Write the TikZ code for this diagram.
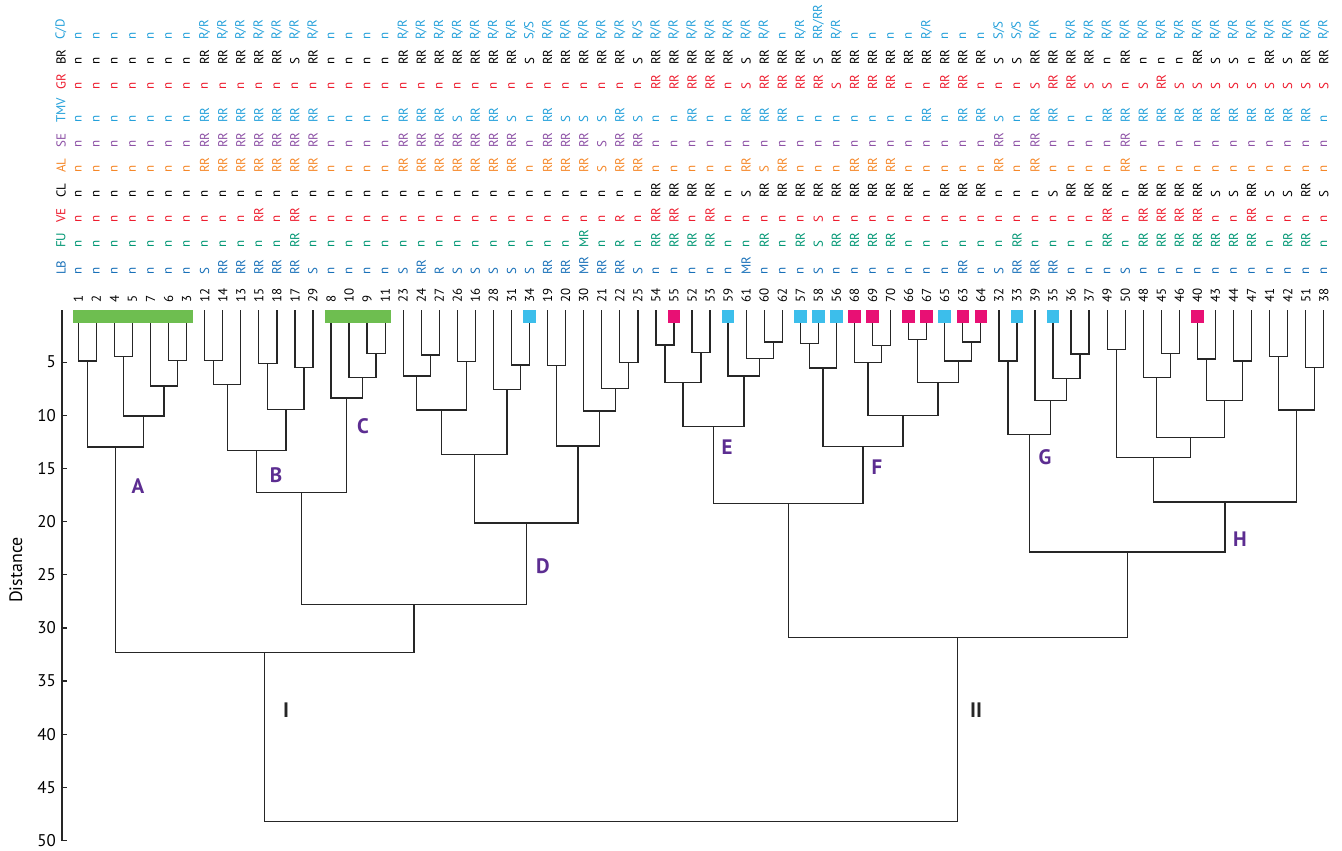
\documentclass[tikz,border=0pt]{standalone}
\usepackage{fontspec}
\setmainfont{PT Sans}
\usetikzlibrary{calc}

\definecolor{cdblue}{RGB}{36,160,218}
\definecolor{lbblue}{RGB}{24,112,184}
\definecolor{gred}{RGB}{237,28,46}
\definecolor{sepurp}{RGB}{140,80,165}
\definecolor{alorange}{RGB}{245,135,40}
\definecolor{fugreen}{RGB}{0,150,115}
\definecolor{labpurp}{RGB}{92,45,145}
\definecolor{barg}{RGB}{110,190,80}
\definecolor{sqblue}{RGB}{60,190,235}
\definecolor{sqpink}{RGB}{232,16,116}

\tikzset{
  dline/.style={line width=1.3bp,draw=black!85},
  entry/.style={rotate=90,anchor=west,inner sep=0pt,font=\fontsize{13}{15}\selectfont},
  leafnum/.style={entry,text=black},
  sqbox/.style={anchor=north,minimum size=12.5bp,inner sep=0pt},
  clab/.style={font=\fontsize{21}{24}\selectfont\bfseries,text=labpurp},
  rlab/.style={font=\fontsize{21}{24}\selectfont\bfseries,text=black!85},
  axnum/.style={anchor=east,inner sep=0pt,font=\fontsize{17}{20}\selectfont},
}

\newcommand{\dmerge}[4]{%
  \pgfmathsetmacro{\dy}{309+10.63*#4}%
  \path ($(#2)!0.5!(#3)$) coordinate (#1x);
  \coordinate (#1) at (#1x |- 0,\dy);
  \draw[dline] (#2) |- (#1) -| (#3);
}

\begin{document}
\begin{tikzpicture}[x=1bp,y=-1bp]
\useasboundingbox (0,0) rectangle (1342,850);

\foreach \lab [count=\i, evaluate=\i as \x using 78.3+18.05*(\i-1)] in
  {1,2,4,5,7,6,3,12,14,13,15,18,17,29,8,10,9,11,23,24,27,26,16,28,31,34,19,20,30,21,22,25,
   54,55,52,53,59,61,60,62,57,58,56,68,69,70,66,67,65,63,64,32,33,39,35,36,37,49,50,48,45,46,40,43,44,47,41,42,51,38}
{
  \coordinate (l\lab) at (\x,310);
  \node[leafnum] (n\lab) at (\x,303) {\lab};
}

\node[entry,text=cdblue] (hCD) at (61,40) {C/D};
\node[entry,text=black] (hBR) at (61,65) {BR};
\node[entry,text=gred] (hGR) at (61,90) {GR};
\node[entry,text=cdblue] (hTMV) at (61,123) {TMV};
\node[entry,text=sepurp] (hSE) at (61,148) {SE};
\node[entry,text=alorange] (hAL) at (61,173) {AL};
\node[entry,text=black] (hCL) at (61,198) {CL};
\node[entry,text=gred] (hVE) at (61,223) {VE};
\node[entry,text=fugreen] (hFU) at (61,248) {FU};
\node[entry,text=lbblue] (hLB) at (61,275) {LB};

\foreach \v [count=\i, evaluate=\i as \x using 78.3+18.05*(\i-1)] in
  {n,n,n,n,n,n,n,R/R,R/R,R/R, R/R,R/R,R/R,R/R,n,n,n,n,R/R,R/R,
   R/R,R/R,R/R,R/R,R/R,S/S,R/R,R/R,R/R,R/R, R/R,R/S,R/R,R/R,R/R,R/R,R/R,R/R,R/R,n,
   R/R,RR/RR,R/R,n,n,n,n,R/R,n,n, n,S/S,S/S,R/R,n,R/R,R/R,R/R,R/R,R/R,
   R/R,R/R,R/R,R/R,R/R,R/R,R/R,R/R,R/R,R/R}
  \node[entry,text=cdblue] (cd\i) at (\x,40) {\v};

\foreach \v [count=\i, evaluate=\i as \x using 78.3+18.05*(\i-1)] in
  {n,n,n,n,n,n,n,RR,RR,RR, RR,RR,S,RR,n,n,n,n,RR,RR,
   RR,RR,RR,RR,RR,S,RR,RR,RR,RR, RR,S,RR,RR,RR,RR,RR,S,RR,RR,
   RR,S,RR,RR,RR,RR,RR,RR,RR,RR, RR,S,S,RR,RR,RR,RR,n,RR,n,
   n,n,RR,S,S,n,RR,S,RR,RR}
  \node[entry,text=black] (br\i) at (\x,65) {\v};

\foreach \v [count=\i, evaluate=\i as \x using 78.3+18.05*(\i-1)] in
  {n,n,n,n,n,n,n,n,n,n, n,n,n,n,n,n,n,n,n,n,
   n,n,n,n,n,n,n,n,n,n, n,n,RR,RR,RR,RR,n,S,RR,RR,
   RR,RR,S,RR,RR,RR,n,n,RR,RR, n,n,n,S,RR,RR,S,S,n,S,
   RR,S,S,S,S,S,S,S,S,S}
  \node[entry,text=gred] (gr\i) at (\x,90) {\v};

\foreach \v [count=\i, evaluate=\i as \x using 78.3+18.05*(\i-1)] in
  {n,n,n,n,n,n,n,RR,RR,RR, RR,RR,RR,RR,n,n,n,n,RR,RR,
   RR,S,RR,RR,S,n,RR,S,S,S, RR,S,n,n,RR,n,n,RR,RR,RR,
   n,n,n,n,n,n,n,RR,n,RR, RR,S,n,RR,RR,n,n,RR,RR,RR,
   RR,RR,RR,RR,RR,RR,RR,RR,RR,n}
  \node[entry,text=cdblue] (tmv\i) at (\x,123) {\v};

\foreach \v [count=\i, evaluate=\i as \x using 78.3+18.05*(\i-1)] in
  {n,n,n,n,n,n,n,RR,RR,RR, RR,RR,RR,RR,n,n,n,n,RR,RR,
   RR,RR,RR,RR,RR,n,RR,RR,RR,S, RR,RR,n,n,n,n,n,n,n,n,
   n,n,n,n,n,n,n,n,n,n, n,RR,n,RR,n,n,n,n,RR,n,
   n,n,n,n,n,n,n,n,n,n}
  \node[entry,text=sepurp] (se\i) at (\x,148) {\v};

\foreach \v [count=\i, evaluate=\i as \x using 78.3+18.05*(\i-1)] in
  {n,n,n,n,n,n,n,RR,RR,RR, RR,RR,RR,RR,n,n,n,n,RR,RR,
   RR,RR,RR,RR,RR,n,RR,RR,RR,S, RR,RR,n,n,n,n,n,RR,S,RR,
   n,n,n,RR,RR,RR,n,n,n,n, n,RR,n,RR,n,n,n,n,RR,n,
   n,n,n,n,n,n,n,n,n,n}
  \node[entry,text=alorange] (al\i) at (\x,173) {\v};

\foreach \v [count=\i, evaluate=\i as \x using 78.3+18.05*(\i-1)] in
  {n,n,n,n,n,n,n,n,n,n, n,n,n,n,n,n,n,n,n,n,
   n,n,n,n,n,n,n,n,n,n, n,n,RR,RR,RR,RR,n,S,RR,RR,
   RR,RR,RR,RR,RR,RR,RR,n,RR,RR, RR,n,n,n,S,RR,RR,RR,n,RR,
   RR,RR,RR,S,S,RR,S,S,RR,S}
  \node[entry,text=black] (cl\i) at (\x,198) {\v};

\foreach \v [count=\i, evaluate=\i as \x using 78.3+18.05*(\i-1)] in
  {n,n,n,n,n,n,n,n,n,n, RR,n,RR,n,n,n,n,n,n,n,
   n,n,n,n,n,n,n,n,n,n, R,n,RR,RR,n,RR,n,n,n,n,
   n,S,n,n,n,n,n,n,n,n, n,n,n,n,n,n,n,RR,n,RR,
   RR,RR,RR,n,n,RR,n,n,n,n}
  \node[entry,text=gred] (ve\i) at (\x,223) {\v};

\foreach \v [count=\i, evaluate=\i as \x using 78.3+18.05*(\i-1)] in
  {n,n,n,n,n,n,n,n,n,n, n,n,RR,n,n,n,n,n,n,n,
   n,n,n,n,n,n,n,n,MR,n, R,n,RR,RR,RR,RR,n,n,RR,n,
   RR,S,RR,RR,RR,RR,n,n,n,n, n,n,RR,n,n,n,n,RR,n,RR,
   RR,RR,RR,RR,RR,RR,n,RR,RR,n}
  \node[entry,text=fugreen] (fu\i) at (\x,248) {\v};

\foreach \v [count=\i, evaluate=\i as \x using 78.3+18.05*(\i-1)] in
  {n,n,n,n,n,n,n,S,RR,RR, RR,RR,RR,S,n,n,n,n,S,RR,
   R,S,S,S,S,S,RR,RR,MR,RR, RR,S,n,n,n,n,n,MR,n,n,
   n,S,n,n,n,n,n,n,n,RR, n,S,RR,RR,RR,n,n,n,S,n,
   n,n,n,n,n,n,n,n,n,n}
  \node[entry,text=lbblue] (lb\i) at (\x,275) {\v};

\dmerge{m12}{l1}{l2}{4.9}
\dmerge{m45}{l4}{l5}{4.5}
\dmerge{m63}{l6}{l3}{4.85}
\dmerge{m763}{l7}{m63}{7.25}
\dmerge{mA4}{m45}{m763}{10.07}
\dmerge{mA}{m12}{mA4}{12.98}
\dmerge{m1214}{l12}{l14}{4.86}
\dmerge{m13}{m1214}{l13}{7.09}
\dmerge{m1518}{l15}{l18}{5.11}
\dmerge{m1729}{l17}{l29}{5.52}
\dmerge{m15}{m1518}{m1729}{9.44}
\dmerge{mB}{m13}{m15}{13.33}
\dmerge{m911}{l9}{l11}{4.17}
\dmerge{m10}{l10}{m911}{6.46}
\dmerge{mC}{l8}{m10}{8.37}
\dmerge{mBC}{mB}{mC}{17.28}
\dmerge{m2427}{l24}{l27}{4.33}
\dmerge{m23}{l23}{m2427}{6.3}
\dmerge{m2616}{l26}{l16}{4.92}
\dmerge{m23b}{m23}{m2616}{9.5}
\dmerge{m3134}{l31}{l34}{5.27}
\dmerge{m28}{l28}{m3134}{7.55}
\dmerge{mD1}{m23b}{m28}{13.67}
\dmerge{m1920}{l19}{l20}{5.3}
\dmerge{m2225}{l22}{l25}{5.0}
\dmerge{m21}{l21}{m2225}{7.5}
\dmerge{m30}{l30}{m21}{9.6}
\dmerge{mD2}{m1920}{m30}{12.9}
\dmerge{mD}{mD1}{mD2}{20.13}
\dmerge{mBCD}{mBC}{mD}{27.77}
\dmerge{mI}{mA}{mBCD}{32.3}

\dmerge{m5455}{l54}{l55}{3.39}
\dmerge{m5253}{l52}{l53}{4.08}
\dmerge{mE1}{m5455}{m5253}{6.9}
\dmerge{m6062}{l60}{l62}{3.1}
\dmerge{m61}{l61}{m6062}{4.67}
\dmerge{m59}{l59}{m61}{6.3}
\dmerge{mE}{mE1}{m59}{11.04}
\dmerge{m5758}{l57}{l58}{3.26}
\dmerge{m56}{m5758}{l56}{5.55}
\dmerge{m6970}{l69}{l70}{3.45}
\dmerge{m68}{l68}{m6970}{5.0}
\dmerge{m6667}{l66}{l67}{2.9}
\dmerge{m6364}{l63}{l64}{3.1}
\dmerge{m65}{l65}{m6364}{4.9}
\dmerge{m66}{m6667}{m65}{6.9}
\dmerge{mF1}{m68}{m66}{10.0}
\dmerge{mF}{m56}{mF1}{12.95}
\dmerge{mEF}{mE}{mF}{18.3}
\dmerge{m3233}{l32}{l33}{4.9}
\dmerge{m3637}{l36}{l37}{4.23}
\dmerge{m35}{l35}{m3637}{6.52}
\dmerge{m39}{l39}{m35}{8.62}
\dmerge{mG}{m3233}{m39}{11.8}
\dmerge{m4950}{l49}{l50}{3.8}
\dmerge{m4546}{l45}{l46}{4.17}
\dmerge{m48}{l48}{m4546}{6.46}
\dmerge{m4043}{l40}{l43}{4.7}
\dmerge{m4447}{l44}{l47}{4.9}
\dmerge{m4044}{m4043}{m4447}{8.6}
\dmerge{mH2}{m48}{m4044}{12.1}
\dmerge{mH1}{m4950}{mH2}{13.95}
\dmerge{m4142}{l41}{l42}{4.48}
\dmerge{m5138}{l51}{l38}{5.52}
\dmerge{m41}{m4142}{m5138}{9.5}
\dmerge{mH}{mH1}{m41}{18.16}
\dmerge{mGH}{mG}{mH}{22.86}
\dmerge{mII}{mEF}{mGH}{30.9}
\dmerge{mRoot}{mI}{mII}{48.2}

\fill[barg] ($(l1)+(-5,0)$) rectangle ($(l3)+(6,12.7)$);
\fill[barg] ($(l8)+(-6,0)$) rectangle ($(l11)+(5.5,12.7)$);
\foreach \lab in {34,59,57,58,56,65,33,35}
  \node[sqbox,fill=sqblue] (sq\lab) at (l\lab) {};
\foreach \lab in {55,68,69,66,67,63,64,40}
  \node[sqbox,fill=sqpink] (sq\lab) at (l\lab) {};

\node[clab] (labA) at (138,486) {A};
\node[clab] (labB) at (276,475) {B};
\node[clab] (labC) at (363,426) {C};
\node[clab] (labD) at (543,566) {D};
\node[clab] (labE) at (727,447) {E};
\node[clab] (labF) at (877,467) {F};
\node[clab] (labG) at (1045,457) {G};
\node[clab] (labH) at (1240,539) {H};
\node[rlab] (labI) at (286,710) {I};
\node[rlab] (labII) at (976,710) {II};

\draw[dline] (62,310) -- (62,841);
\foreach \d in {5,10,...,50}
{
  \draw[dline] (62,{309+10.63*\d}) -- ++(5,0);
  \node[axnum] (t\d) at (56,{309+10.63*\d}) {\d};
}
\node[rotate=90,font=\fontsize{18}{20}\selectfont] (dist) at (16,570) {Distance};
\end{tikzpicture}
\end{document}
